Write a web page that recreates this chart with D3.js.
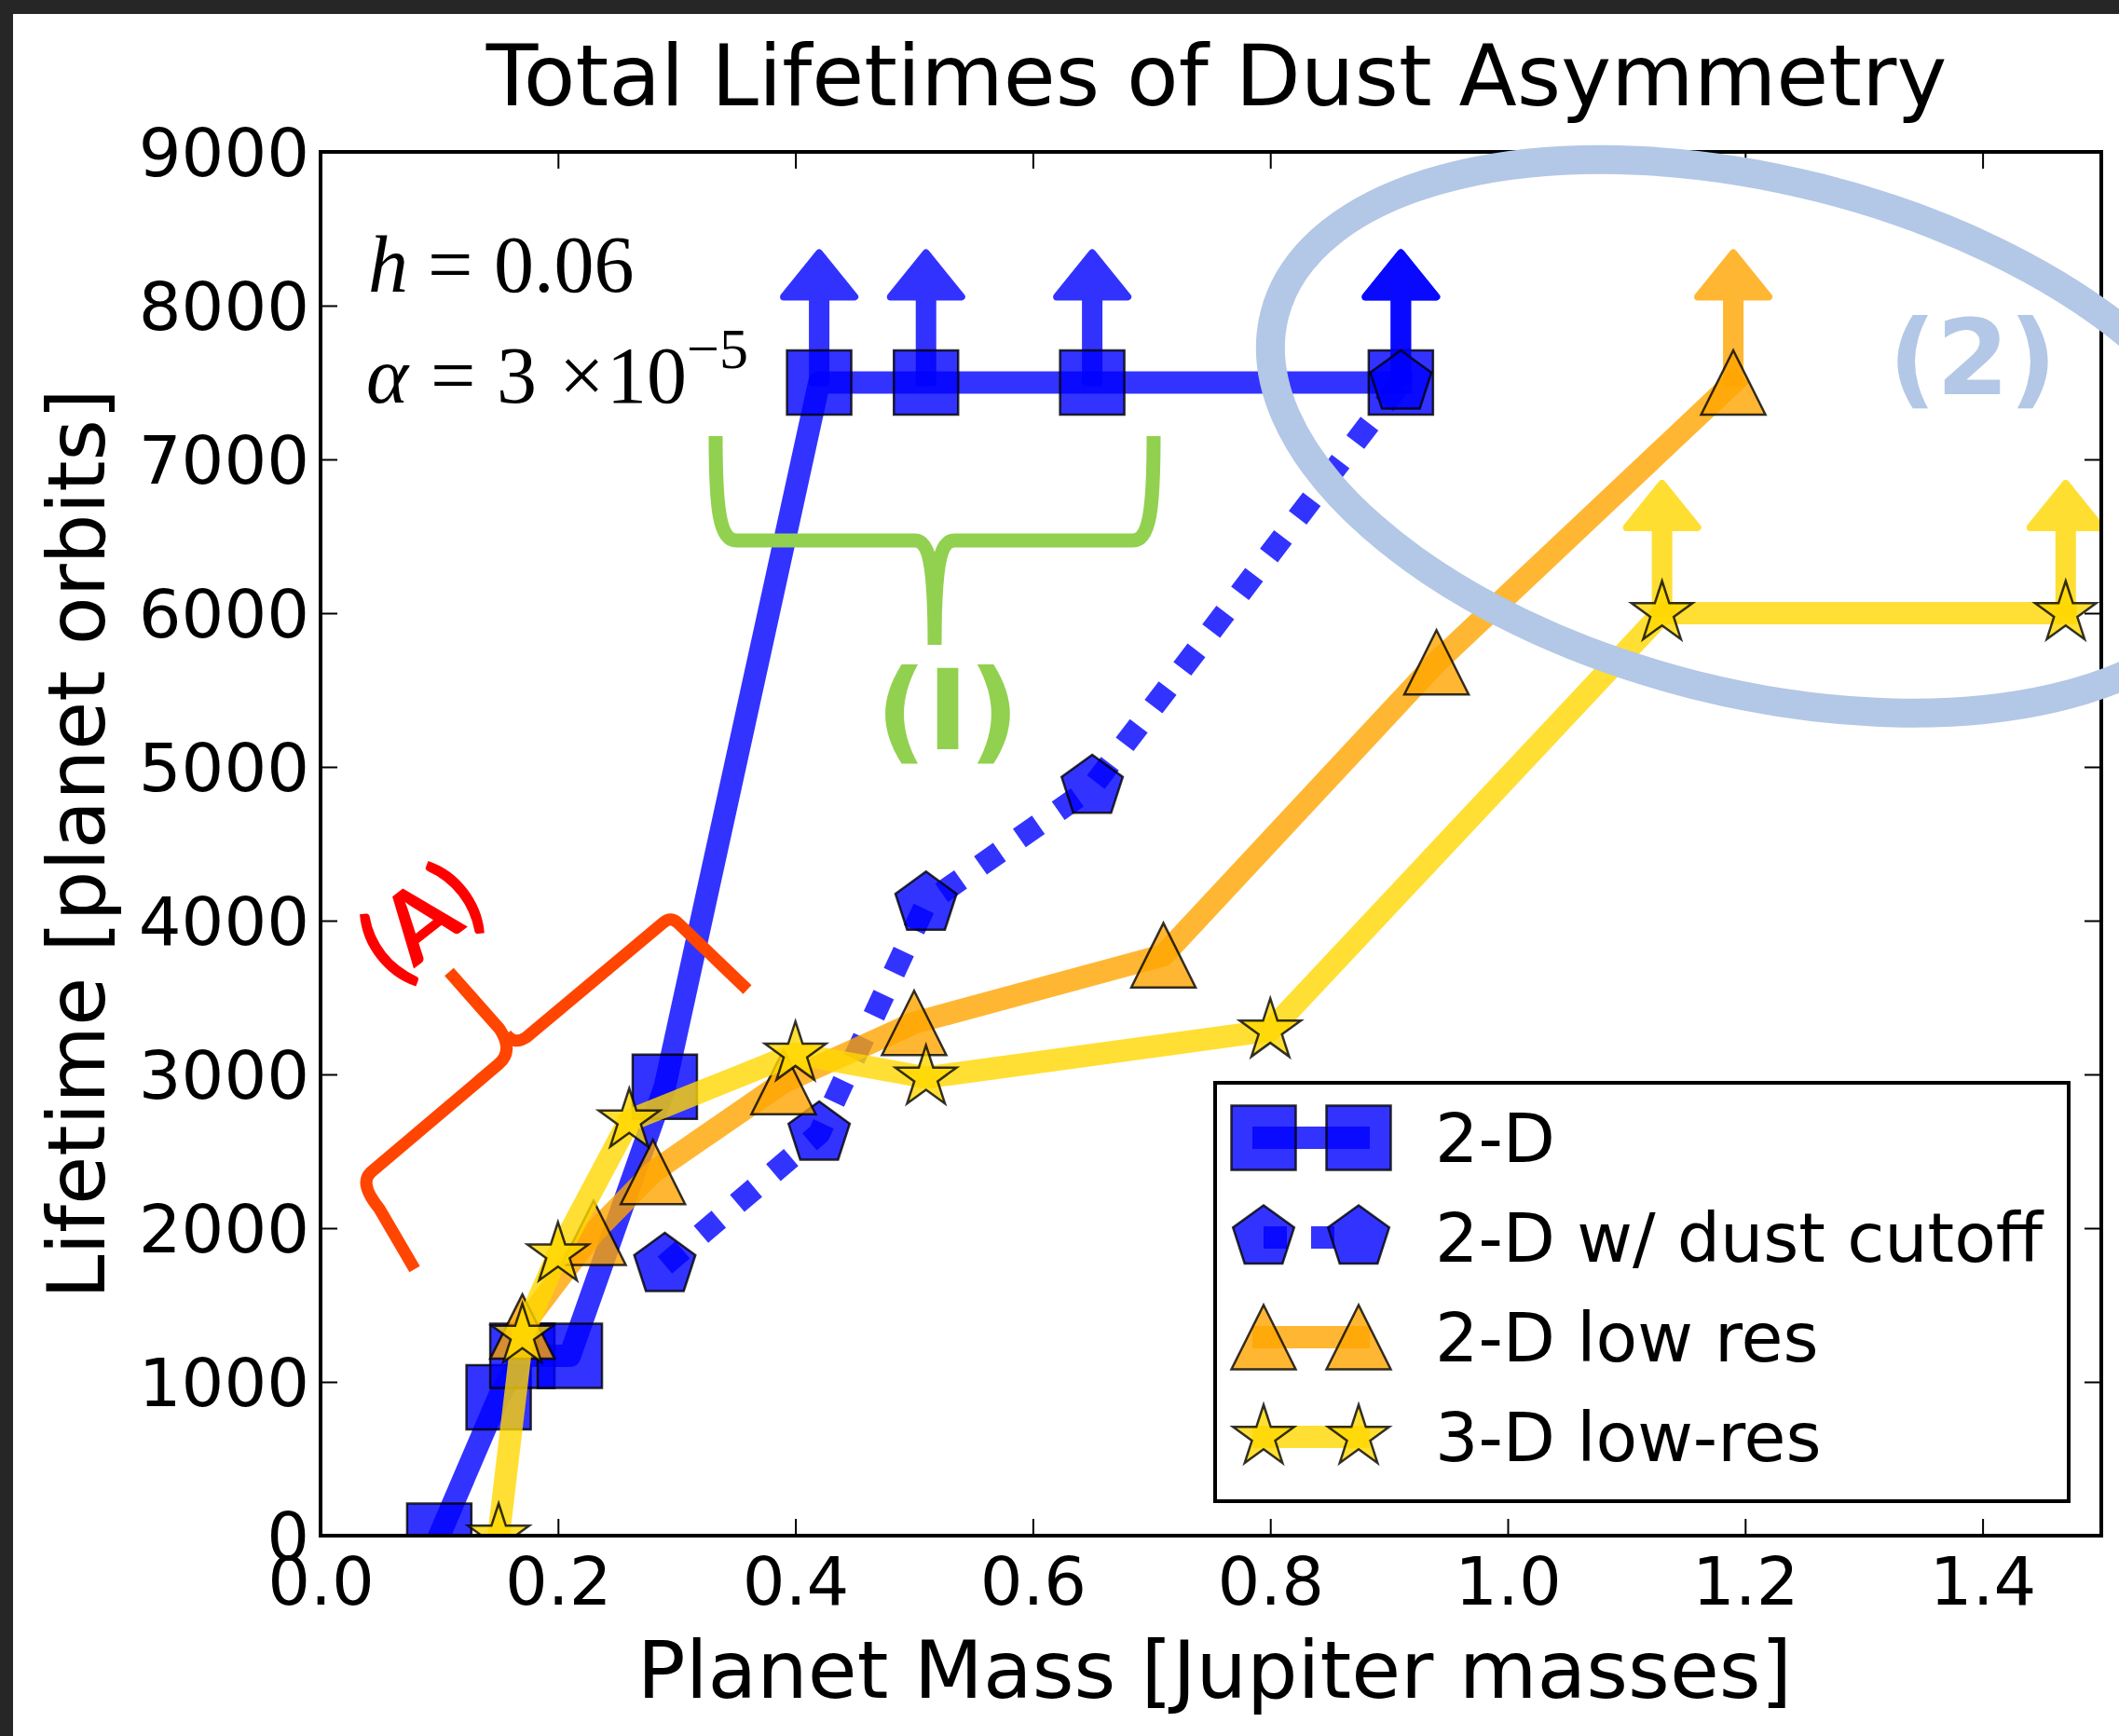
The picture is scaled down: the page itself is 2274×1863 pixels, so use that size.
<!DOCTYPE html>
<html>
<head>
<meta charset="utf-8">
<script src="https://cdn.jsdelivr.net/npm/d3@7"></script>
<style>
  body { margin: 0; background: #fff; }
  svg { display: block; font-family: "DejaVu Sans", sans-serif; }
</style>
</head>
<body>
<svg id="chart" width="2274" height="1863"></svg>
<script>
// values
const massTicks = [0, 0.2, 0.4, 0.6, 0.8, 1.0, 1.2, 1.4];
const lifeTicks = [0, 1000, 2000, 3000, 4000, 5000, 6000, 7000, 8000, 9000];

const mass2D = [0.10, 0.15, 0.17, 0.21, 0.29, 0.42, 0.51, 0.65, 0.91];
const life2D = [0, 900, 1170, 1170, 2920, 7500, 7500, 7500, 7500];
const lim2D  = [0, 0, 0, 0, 0, 1, 1, 1, 1];

const massCut = [0.29, 0.42, 0.51, 0.65, 0.91];
const lifeCut = [1760, 2615, 4110, 4870, 7500];
const limCut  = [0, 0, 0, 0, 1];

const massLow = [0.17, 0.23, 0.28, 0.39, 0.50, 0.71, 0.94, 1.19];
const lifeLow = [1360, 1970, 2365, 2950, 3335, 3775, 5680, 7500];
const limLow  = [0, 0, 0, 0, 0, 0, 0, 1];

const mass3D = [0.15, 0.17, 0.20, 0.26, 0.40, 0.51, 0.80, 1.13, 1.47];
const life3D = [0, 1300, 1830, 2700, 3135, 2980, 3285, 6000, 6000];
const lim3D  = [0, 0, 0, 0, 0, 0, 0, 1, 1];

const seriesNames = ["2-D", "2-D w/ dust cutoff", "2-D low res", "3-D low-res"];

const W = 2274, H = 1863;
const plot = { left: 344, right: 2255, top: 163, bottom: 1648 };

const x = d3.scaleLinear().domain([0, 1.5]).range([plot.left, plot.right]);
const y = d3.scaleLinear().domain([0, 9000]).range([plot.bottom, plot.top]);

const series = [
    { name: seriesNames[0], xs: mass2D, ys: life2D, lim: lim2D, color: "#0000ff", shape: "square", dash: null },
    { name: seriesNames[1], xs: massCut, ys: lifeCut, lim: limCut, color: "#0000ff", shape: "pentagon", dash: "25,26" },
    { name: seriesNames[2], xs: massLow, ys: lifeLow, lim: limLow, color: "#ffa500", shape: "triangle", dash: null },
    { name: seriesNames[3], xs: mass3D, ys: life3D, lim: lim3D, color: "#ffd700", shape: "star", dash: null }
];

const svg = d3.select("#chart");

// page background + dark border at left / top
svg.append("rect").attr("width", W).attr("height", H).attr("fill", "#fff");
svg.append("rect").attr("width", 14).attr("height", H).attr("fill", "#262626");
svg.append("rect").attr("width", W).attr("height", 15).attr("fill", "#262626");

function markerPath(shape, r) {
    if (shape === "square") {
        return `M${-r},${-r}H${r}V${r}H${-r}Z`;
    }
    if (shape === "triangle") {
        return `M0,${-r}L${r},${r}L${-r},${r}Z`;
    }
    let pts = [];
    if (shape === "pentagon") {
        for (let k = 0; k < 5; k++) {
            const a = -Math.PI / 2 + k * 2 * Math.PI / 5;
            pts.push([r * Math.cos(a), r * Math.sin(a)]);
        }
    } else { // star
        for (let k = 0; k < 10; k++) {
            const a = -Math.PI / 2 + k * Math.PI / 5;
            const rr = k % 2 === 0 ? r : r * 0.382;
            pts.push([rr * Math.cos(a), rr * Math.sin(a)]);
        }
    }
    return "M" + pts.map(p => p[0].toFixed(2) + "," + p[1].toFixed(2)).join("L") + "Z";
}

// upward arrow = lower limit
const arrowShape = "M-7,0L-7,-92L-38,-92L0,-139L38,-92L7,-92L7,0Z";

svg.append("clipPath").attr("id", "plotClip")
    .append("rect")
    .attr("x", plot.left).attr("y", plot.top)
    .attr("width", plot.right - plot.left).attr("height", plot.bottom - plot.top);

// ticks (inside, all four sides)
function styleAxis(g) {
    g.attr("font-family", "DejaVu Sans").attr("font-size", 72);
    g.select(".domain").remove();
    g.selectAll(".tick line").attr("stroke", "#000").attr("stroke-width", 2);
    g.selectAll(".tick text").attr("fill", "#000");
}

const gx = svg.append("g")
    .attr("transform", `translate(0,${plot.bottom})`)
    .call(d3.axisBottom(x).tickValues(massTicks).tickSize(-18).tickFormat(d3.format(".1f")));
styleAxis(gx);
gx.selectAll(".tick text").attr("y", 74).attr("dy", null);

const gy = svg.append("g")
    .attr("transform", `translate(${plot.left},0)`)
    .call(d3.axisLeft(y).tickValues(lifeTicks).tickSize(-18).tickFormat(d3.format("d")));
styleAxis(gy);
gy.selectAll(".tick text").attr("x", -12).attr("dy", "0.36em");

const gxt = svg.append("g")
    .attr("transform", `translate(0,${plot.top})`)
    .call(d3.axisTop(x).tickValues(massTicks).tickSize(-18).tickFormat(""));
styleAxis(gxt);

const gyr = svg.append("g")
    .attr("transform", `translate(${plot.right},0)`)
    .call(d3.axisRight(y).tickValues(lifeTicks).tickSize(-18).tickFormat(""));
styleAxis(gyr);

// data
const dataG = svg.append("g").attr("clip-path", "url(#plotClip)");
const line = d3.line().x(d => x(d[0])).y(d => y(d[1]));

series.forEach(s => {
    const pts = s.xs.map((v, i) => [v, s.ys[i]]);

    dataG.append("path")
        .attr("d", line(pts))
        .attr("fill", "none")
        .attr("stroke", s.color)
        .attr("stroke-opacity", 0.8)
        .attr("stroke-width", 24)
        .attr("stroke-linejoin", "round")
        .attr("stroke-linecap", s.dash ? "butt" : "square")
        .attr("stroke-dasharray", s.dash);

    dataG.selectAll(null)
        .data(pts.filter((p, i) => s.lim[i]))
        .enter().append("path")
        .attr("d", arrowShape)
        .attr("transform", d => `translate(${x(d[0])},${y(d[1])})`)
        .attr("fill", s.color)
        .attr("stroke", s.color)
        .attr("stroke-width", 8)
        .attr("stroke-linejoin", "round")
        .attr("opacity", 0.8);

    dataG.selectAll(null)
        .data(pts)
        .enter().append("path")
        .attr("d", markerPath(s.shape, 34.5))
        .attr("transform", d => `translate(${x(d[0])},${y(d[1])})`)
        .attr("fill", s.color)
        .attr("fill-opacity", 0.8)
        .attr("stroke", "#000")
        .attr("stroke-opacity", 0.8)
        .attr("stroke-width", 2.5);
});

// axes frame
svg.append("rect")
    .attr("x", plot.left).attr("y", plot.top)
    .attr("width", plot.right - plot.left).attr("height", plot.bottom - plot.top)
    .attr("fill", "none").attr("stroke", "#000").attr("stroke-width", 4);

// legend
const leg = svg.append("g");
leg.append("rect")
    .attr("x", 1304).attr("y", 1162).attr("width", 916).attr("height", 449)
    .attr("fill", "#fff").attr("stroke", "#000").attr("stroke-width", 4);

series.forEach((s, i) => {
    const cy = 1221 + i * 107;
    leg.append("line")
        .attr("x1", 1356).attr("x2", 1458).attr("y1", cy).attr("y2", cy)
        .attr("stroke", s.color).attr("stroke-opacity", 0.8).attr("stroke-width", 24)
        .attr("stroke-linecap", s.dash ? "butt" : "square")
        .attr("stroke-dasharray", s.dash);
    [1356, 1458].forEach(mx => {
        leg.append("path")
            .attr("d", markerPath(s.shape, 34.5))
            .attr("transform", `translate(${mx},${cy})`)
            .attr("fill", s.color).attr("fill-opacity", 0.8)
            .attr("stroke", "#000").attr("stroke-opacity", 0.8).attr("stroke-width", 2.5);
    });
    leg.append("text")
        .attr("x", 1540).attr("y", cy + 26)
        .attr("font-size", 73)
        .text(s.name);
});

// titles
svg.append("text")
    .attr("x", (plot.left + plot.right) / 2 + 6).attr("y", 113)
    .attr("text-anchor", "middle").attr("font-size", 91)
    .text("Total Lifetimes of Dust Asymmetry");

svg.append("text")
    .attr("x", (plot.left + plot.right) / 2 + 4).attr("y", 1822)
    .attr("text-anchor", "middle").attr("font-size", 86)
    .text("Planet Mass [Jupiter masses]");

svg.append("text")
    .attr("transform", `translate(112,${(plot.top + plot.bottom) / 2}) rotate(-90)`)
    .attr("text-anchor", "middle").attr("font-size", 85)
    .text("Lifetime [planet orbits]");

// parameter text
const mathG = svg.append("g").attr("font-family", "Liberation Serif").attr("font-size", 86);
mathG.append("text").attr("x", 395).attr("y", 313).attr("font-style", "italic").text("h");
mathG.append("text").attr("x", 459).attr("y", 313).text("=");
mathG.append("text").attr("x", 530).attr("y", 313).text("0.06");
mathG.append("text").attr("x", 393).attr("y", 432).attr("font-style", "italic").text("α");
mathG.append("text").attr("x", 462).attr("y", 432).text("=");
mathG.append("text").attr("x", 533).attr("y", 432).text("3");
mathG.append("text").attr("x", 600).attr("y", 432).text("×");
mathG.append("text").attr("x", 651).attr("y", 432).text("10");
mathG.append("text").attr("x", 737).attr("y", 395).attr("font-size", 62).text("−5");

// annotation (1): green brace
svg.append("path")
    .attr("d", "M768,468C768,545 772,580 790,580L982,580C1000,580 1003,620 1003,692" +
               "M1003,692C1003,620 1006,580 1024,580L1216,580C1234,580 1238,545 1238,468")
    .attr("fill", "none").attr("stroke", "#92d050").attr("stroke-width", 15)
    .attr("stroke-linejoin", "round");
svg.append("text")
    .attr("x", 1017).attr("y", 804)
    .attr("text-anchor", "middle")
    .attr("font-family", "DejaVu Sans").attr("font-weight", "bold").attr("font-size", 120)
    .attr("fill", "#92d050")
    .text("(I)");

// annotation (A): red brace
svg.append("path")
    .attr("d", "M445,1362L407,1297Q385,1270 398,1258L535,1142Q552,1128 536,1104L482,1043" +
               "M543,1110Q552,1122 565,1113L712,990Q720,983 728,991L802,1062")
    .attr("fill", "none").attr("stroke", "#ff4500").attr("stroke-width", 13)
    .attr("stroke-linejoin", "round");
svg.append("text")
    .attr("transform", "translate(473,1017) rotate(-38)")
    .attr("text-anchor", "middle")
    .attr("font-family", "Lato").attr("font-weight", "bold").attr("font-size", 104)
    .attr("fill", "#ff0000")
    .text("(A)");

// annotation (2): ellipse
svg.append("ellipse")
    .attr("transform", `translate(${x(1.21)},${y(7150)}) rotate(14.15)`)
    .attr("rx", 534).attr("ry", 275)
    .attr("fill", "none").attr("stroke", "#b3c7e6").attr("stroke-width", 31);
svg.append("text")
    .attr("x", 2117).attr("y", 423)
    .attr("text-anchor", "middle")
    .attr("font-family", "DejaVu Sans").attr("font-weight", "bold").attr("font-size", 112)
    .attr("fill", "#b3c7e6")
    .text("(2)");
</script>
</body>
</html>
